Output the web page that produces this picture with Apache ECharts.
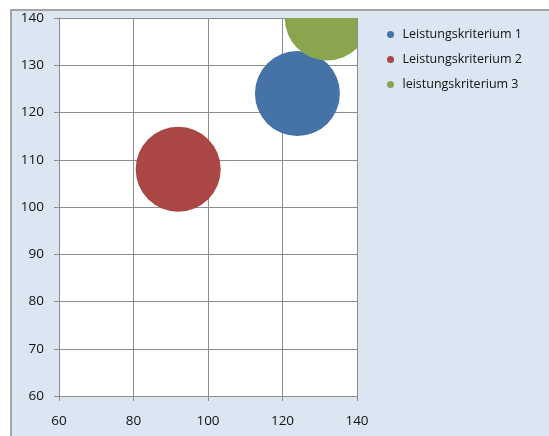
<!DOCTYPE html>
<html lang="de">
<head>
<meta charset="utf-8">
<title>Blasendiagramm</title>
<script src="https://cdn.jsdelivr.net/npm/echarts@6/dist/echarts.min.js"></script>
<style>
    body { margin: 0; background: #fff; }
    #wrap { position: relative; width: 549px; height: 436px; overflow: hidden; }
    #bg {
        position: absolute; left: 10px; top: 9px; right: -4px; bottom: -4px;
        background: #dce6f2;
        border-left: 2px solid #a5a5a5;
        border-top: 2px solid #a5a5a5;
    }
    #main { position: absolute; left: 0; top: 0; width: 549px; height: 436px; }
</style>
</head>
<body>
<div id="wrap">
    <div id="bg"></div>
    <div id="main"></div>
</div>

<script type="text/javascript">
    // Daten
    var seriesNames = ['Leistungskriterium 1', 'Leistungskriterium 2', 'leistungskriterium 3'];
    var xValues = [124, 92, 132];
    var yValues = [124, 108, 140];
    var bubbleSizes = [10, 10, 10];
    var colors = ['#4572a7', '#aa4643', '#89a54e'];

    var xTicks = { min: 60, max: 140, interval: 20 };
    var yTicks = { min: 60, max: 140, interval: 10 };

    var maxSize = Math.max.apply(null, bubbleSizes);
    var fontFam = '"Open Sans", "Liberation Sans", sans-serif';

    var myChart = echarts.init(document.getElementById('main'));

    var series = seriesNames.map(function (name, i) {
        return {
            name: name,
            type: 'custom',
            clip: true,
            itemStyle: { color: colors[i] },
            data: [[xValues[i], yValues[i], bubbleSizes[i]]],
            renderItem: function (params, api) {
                var p = api.coord([api.value(0), api.value(1)]);
                // Radius nach Blasengröße
                var r = 42.5 * Math.sqrt(api.value(2) / maxSize);
                return {
                    type: 'circle',
                    shape: { cx: p[0], cy: p[1], r: r },
                    style: { fill: colors[i] }
                };
            }
        };
    });

    var option = {
        backgroundColor: 'transparent',
        animation: false,
        grid: {
            left: 59, top: 18, width: 298, height: 378,
            show: true, backgroundColor: '#ffffff', borderWidth: 0
        },
        legend: {
            orient: 'vertical',
            left: 382, top: 22,
            icon: 'circle',
            itemWidth: 14, itemHeight: 7,
            itemGap: 10,
            data: seriesNames,
            textStyle: { fontFamily: fontFam, fontSize: 12.5, color: '#111', lineHeight: 15 }
        },
        xAxis: {
            type: 'value',
            min: xTicks.min, max: xTicks.max, interval: xTicks.interval,
            axisLine: { show: true, onZero: false, lineStyle: { color: '#8c8c8c', width: 1 } },
            axisTick: { show: true, length: 5, lineStyle: { color: '#8c8c8c' } },
            axisLabel: { margin: 18, fontFamily: fontFam, fontSize: 13.5, color: '#111' },
            splitLine: { show: true, lineStyle: { color: '#8c8c8c', width: 1 } }
        },
        yAxis: {
            type: 'value',
            min: yTicks.min, max: yTicks.max, interval: yTicks.interval,
            axisLine: { show: true, onZero: false, lineStyle: { color: '#8c8c8c', width: 1 } },
            axisTick: { show: true, length: 5, lineStyle: { color: '#8c8c8c' } },
            axisLabel: { margin: 15, fontFamily: fontFam, fontSize: 13.5, color: '#111' },
            splitLine: { show: true, lineStyle: { color: '#8c8c8c', width: 1 } }
        },
        series: series
    };

    myChart.setOption(option);
</script>
</body>
</html>
